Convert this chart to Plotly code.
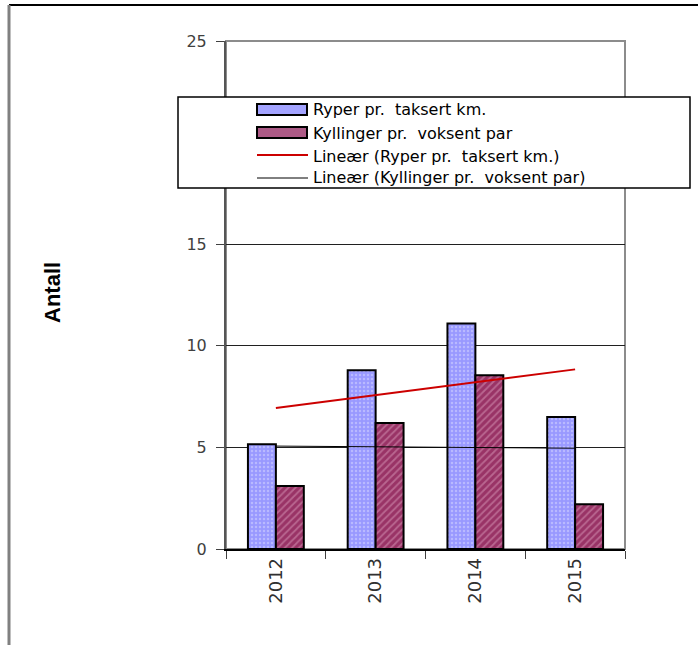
import numpy as np
import plotly.graph_objects as go

years = ["2012", "2013", "2014", "2015"]
ryper = [5.15, 8.8, 11.1, 6.5]
kyllinger = [3.1, 6.2, 8.55, 2.2]
name_ryper = "Ryper pr.\u00a0 taksert km."
name_kyll = "Kyllinger pr.\u00a0 voksent par"
y_ticks = [0, 5, 10, 15, 20, 25]
y_title = "Antall"

W, H = 698, 645
L, R, T, B = 226, 625, 41, 549  # plot area in pixels

BLUE = "#9999FF"
MAROON = "#993366"
RED = "#CC0000"


def px(x):
    return (x - L) / (R - L)


def py(y):
    return (B - y) / (B - T)


def trend(vals):
    xs = np.arange(1, len(vals) + 1)
    k, m = np.polyfit(xs, vals, 1)
    return list(k * xs + m)


fig = go.Figure()
fig.add_trace(go.Bar(
    x=years, y=ryper, name=name_ryper, showlegend=False,
    marker=dict(color=BLUE, line=dict(color="black", width=2),
                pattern=dict(shape=".", fgcolor="#d8d8ff", bgcolor=BLUE,
                             size=4, solidity=0.3)),
))
fig.add_trace(go.Bar(
    x=years, y=kyllinger, name=name_kyll, showlegend=False,
    marker=dict(color=MAROON, line=dict(color="black", width=2),
                pattern=dict(shape="/", fgcolor="#d99ab9", bgcolor=MAROON,
                             size=5, solidity=0.35)),
))
fig.add_trace(go.Scatter(
    x=years, y=trend(ryper), mode="lines", name="Lineær (" + name_ryper + ")",
    line=dict(color=RED, width=2), showlegend=False,
))
fig.add_trace(go.Scatter(
    x=years, y=trend(kyllinger), mode="lines", name="Lineær (" + name_kyll + ")",
    line=dict(color="black", width=1), showlegend=False,
))


def P(x0, y0, x1, y1, **kw):
    d = dict(xref="paper", yref="paper", x0=px(x0), x1=px(x1), y0=py(y0), y1=py(y1))
    d.update(kw)
    return d


shapes = [
    # plot-area border (gray)
    dict(type="rect", xref="paper", yref="paper", x0=0, x1=1, y0=0, y1=1,
         line=dict(color="#8c8c8c", width=2), layer="below"),
    # outer frame
    P(9, 5, 700, 5, type="line", line=dict(color="black", width=2)),
    P(9, 5, 9, 650, type="line", line=dict(color="#808080", width=3)),
    # legend box
    P(178, 188, 690, 97, type="rect", line=dict(color="black", width=1.5),
      fillcolor="white", layer="above"),
    # legend symbols
    P(257, 115, 307, 104, type="rect", line=dict(color="black", width=2),
      fillcolor="#a3a3ff", layer="above"),
    P(257, 138, 307, 127, type="rect", line=dict(color="black", width=2),
      fillcolor="#ad5a86", layer="above"),
    P(257, 155, 308, 155, type="line", line=dict(color=RED, width=2), layer="above"),
    P(257, 178, 308, 178, type="line", line=dict(color="black", width=1), layer="above"),
]

leg_font = dict(family="DejaVu Sans, sans-serif", size=16, color="black")
legend_rows = [(name_ryper, 110), (name_kyll, 133),
               ("Lineær (" + name_ryper + ")", 156),
               ("Lineær (" + name_kyll + ")", 178)]
annotations = [
    dict(text=t, xref="paper", yref="paper", x=px(311), y=py(yy), xanchor="left",
         yanchor="middle", showarrow=False, font=leg_font)
    for t, yy in legend_rows
]
annotations.append(dict(
    text="<b>" + y_title + "</b>", xref="paper", yref="paper", x=px(52), y=py(293),
    xanchor="center", yanchor="middle", textangle=-90, showarrow=False,
    font=dict(family="Liberation Sans, Arial, sans-serif", size=22, color="black")))

fig.update_layout(
    width=W, height=H,
    margin=dict(l=L, r=W - R, t=T, b=H - B),
    paper_bgcolor="white", plot_bgcolor="white",
    barmode="group", bargap=0.44, bargroupgap=0,
    font=dict(family="DejaVu Sans, sans-serif", color="black"),
    showlegend=False,
    shapes=shapes,
    annotations=annotations,
    xaxis=dict(type="category", showline=True, linecolor="black", linewidth=1.5,
               ticks="outside", tickson="boundaries", ticklen=8, tickcolor="#404040",
               tickangle=-90, tickfont=dict(size=18, color="#303030"),
               showgrid=False, zeroline=False),
    yaxis=dict(range=[0, 25], tickvals=y_ticks, showline=True, linecolor="#555555",
               linewidth=2, ticks="outside", ticklen=8, tickcolor="#404040",
               tickfont=dict(size=16, color="#404040"), ticklabelstandoff=6,
               showgrid=True, gridcolor="#202020", gridwidth=1, zeroline=False),
)

fig.write_html("out.html", config={"displayModeBar": False},
               post_script="document.body.style.margin='0';document.body.style.overflow='hidden';")
